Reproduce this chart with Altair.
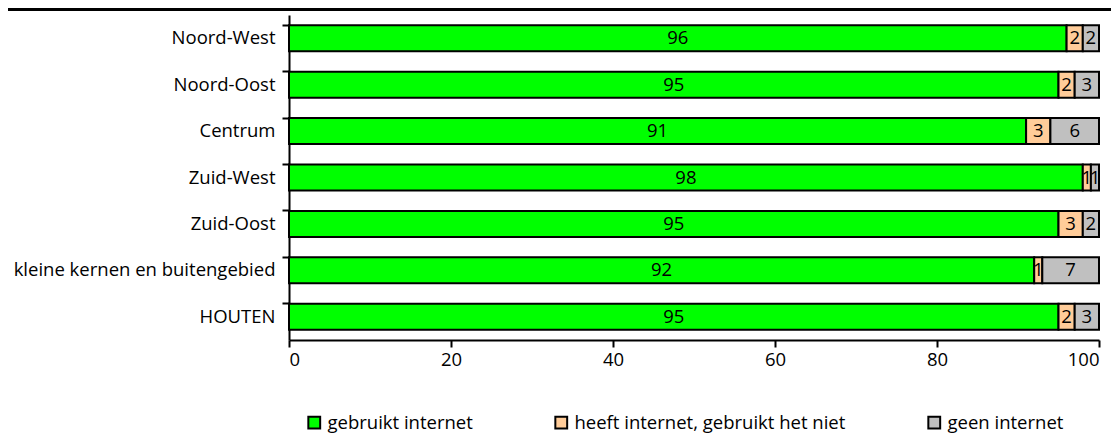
import altair as alt
import pandas as pd

regions = ["Noord-West", "Noord-Oost", "Centrum", "Zuid-West", "Zuid-Oost",
           "kleine kernen en buitengebied", "HOUTEN"]
series = ["gebruikt internet", "heeft internet, gebruikt het niet", "geen internet"]
gebruikt = [96, 95, 91, 98, 95, 92, 95]
heeft_niet = [2, 2, 3, 1, 3, 1, 2]
geen = [2, 3, 6, 1, 2, 7, 3]
colors = ["#00FF00", "#FFCC99", "#C0C0C0"]

rows = []
for i, r in enumerate(regions):
    for j, (s, vals) in enumerate(zip(series, [gebruikt, heeft_niet, geen])):
        rows.append({"regio": r, "serie": s, "waarde": vals[i], "volg": j})
df = pd.DataFrame(rows)

FONT = "Open Sans"
FS = 18.5

base = alt.Chart(df).transform_stack(
    stack="waarde", groupby=["regio"], as_=["x0", "x1"],
    sort=[alt.SortField("volg", order="ascending")]
).transform_calculate(mid="(datum.x0 + datum.x1) / 2")

yenc = alt.Y("regio:N", sort=regions, title=None,
             scale=alt.Scale(paddingInner=0.44, paddingOuter=0.22),
             axis=alt.Axis(labelFontSize=FS, labelColor="black", labelFont=FONT,
                           labelPadding=7, tickSize=7, tickColor="black", tickWidth=2,
                           domainColor="black", domainWidth=2, bandPosition=0,
                           labelLimit=400))

bars = base.mark_bar(stroke="black", strokeWidth=2).encode(
    x=alt.X("x0:Q", title=None,
            scale=alt.Scale(domain=[0, 100], nice=False),
            axis=alt.Axis(values=[0, 20, 40, 60, 80, 100], grid=False,
                          labelFontSize=FS, labelFont=FONT, labelColor="black",
                          tickSize=7, tickColor="black", tickWidth=2,
                          domainColor="black", domainWidth=2, labelPadding=3)),
    x2="x1:Q",
    y=yenc,
    color=alt.Color("serie:N", sort=series,
                    scale=alt.Scale(domain=series, range=colors),
                    legend=alt.Legend(title=None, orient="none", direction="horizontal",
                                      legendX=16, legendY=398, symbolType="square",
                                      symbolSize=140, symbolStrokeColor="black",
                                      symbolStrokeWidth=2, labelFontSize=FS,
                                      labelFont=FONT, labelColor="black",
                                      columnPadding=78, symbolOffset=0,
                                      labelOffset=4, labelLimit=400)),
    order=alt.Order("volg:Q"),
)

labels = base.mark_text(fontSize=FS, font=FONT, color="black").encode(
    x="mid:Q",
    y=alt.Y("regio:N", sort=regions),
    text="waarde:Q",
)

topline = alt.Chart(df).mark_rule(color="black", strokeWidth=3).encode(
    x=alt.value(-281), x2=alt.value(822), y=alt.value(-5.5)
)

chart = alt.layer(bars, labels, topline).properties(
    width=810, height=325,
    autosize=alt.AutoSizeParams(type="none"),
    padding={"left": 281, "top": 7, "right": 12, "bottom": 97},
).configure_view(stroke=None)

chart.save("out.html", embed_options={"renderer": "svg", "actions": False})
